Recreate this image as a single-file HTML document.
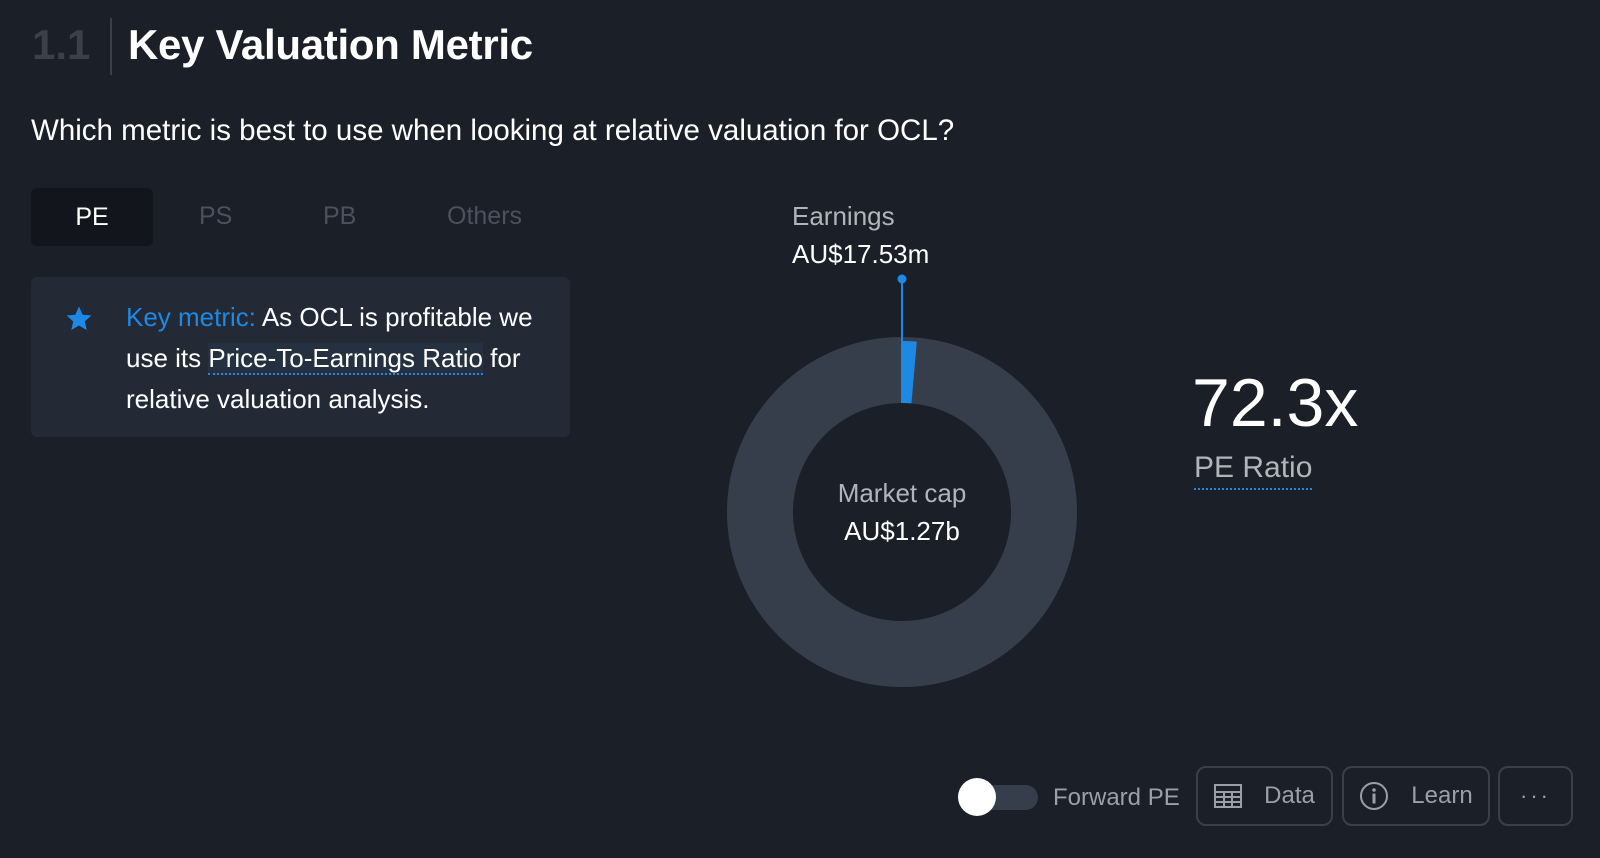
<!DOCTYPE html>
<html><head><meta charset="utf-8"><style>
body{margin:0;width:1600px;height:858px;background:#1b1f27;font-family:"Liberation Sans",sans-serif;overflow:hidden;position:relative;color:#fff}
.a{position:absolute;white-space:nowrap}
.btn{position:absolute;border:2px solid #3a404b;border-radius:10px;box-sizing:border-box;color:#9aa0a8;font-size:24px;display:flex;align-items:center;justify-content:center;gap:22px}
</style></head><body>
<div class="a" style="left:32px;top:21px;font-size:42px;color:#3b414b;font-weight:bold">1.1</div>
<div class="a" style="left:110px;top:18px;width:2px;height:57px;background:#3a404b"></div>
<div class="a" style="left:128px;top:21px;font-size:42px;font-weight:bold;letter-spacing:-0.3px">Key Valuation Metric</div>
<div class="a" style="left:31px;top:114px;font-size:29.5px">Which metric is best to use when looking at relative valuation for OCL?</div>
<div class="a" style="left:31px;top:188px;width:122px;height:58px;background:#12151b;border-radius:6px;font-size:25px;display:flex;align-items:center;justify-content:center">PE</div>
<div class="a" style="left:199px;top:202px;font-size:25px;color:#4b525d">PS</div>
<div class="a" style="left:323px;top:202px;font-size:25px;color:#4b525d">PB</div>
<div class="a" style="left:447px;top:202px;font-size:25px;color:#4b525d">Others</div>
<div class="a" style="left:31px;top:277px;width:539px;height:160px;background:#232a35;border-radius:6px"></div>
<svg class="a" style="left:64px;top:304px" width="30" height="30" viewBox="0 0 24 24"><path fill="#1e88e5" d="M12 2l2.9 6.6 7.1.6-5.4 4.7 1.6 7-6.2-3.7-6.2 3.7 1.6-7L2 9.2l7.1-.6z"/></svg>
<div class="a" style="left:126px;top:297px;font-size:26px;line-height:41px;white-space:normal;width:430px"><span style="color:#1e88e5">Key metric:</span> As OCL is profitable we use its <span style="border-bottom:2px dotted #1e88e5;background:#253140">Price-To-Earnings Ratio</span> for relative valuation analysis.</div>
<svg class="a" style="left:0;top:0" width="1600" height="858" id="ch"></svg>
<div class="a" style="left:792px;top:201px;font-size:26px;color:#b0b5bc">Earnings</div>
<div class="a" style="left:792px;top:239px;font-size:26px">AU$17.53m</div>
<div class="a" style="left:802px;top:478px;width:200px;text-align:center;font-size:26px;color:#b0b5bc">Market cap</div>
<div class="a" style="left:802px;top:516px;width:200px;text-align:center;font-size:26px">AU$1.27b</div>
<div class="a" style="left:1192px;top:364px;font-size:68px">72.3x</div>
<div class="a" style="left:1194px;top:451px;font-size:30px;color:#b0b5bc;border-bottom:2px dotted #1e88e5;padding-bottom:3px">PE Ratio</div>
<div class="a" style="left:958px;top:785px;width:80px;height:25px;border-radius:13px;background:#373e4b"></div>
<div class="a" style="left:958px;top:778px;width:38px;height:38px;border-radius:50%;background:#fff"></div>
<div class="a" style="left:1053px;top:784px;font-size:24px;color:#9aa0a8">Forward PE</div>
<div class="btn" style="left:1196px;top:766px;width:137px;height:60px"><svg width="28" height="24" viewBox="0 0 28 24"><rect x="1" y="1" width="26" height="22" fill="none" stroke="#9aa0a8" stroke-width="2"/><path d="M1 8H27M1 13H27M1 18H27M10 8V23M18 8V23" stroke="#9aa0a8" stroke-width="2"/></svg>Data</div>
<div class="btn" style="left:1342px;top:766px;width:148px;height:60px"><svg width="30" height="30" viewBox="0 0 30 30"><circle cx="15" cy="15" r="13" fill="none" stroke="#9aa0a8" stroke-width="2"/><circle cx="15" cy="9" r="1.8" fill="#9aa0a8"/><rect x="13.5" y="12.5" width="3" height="10" fill="#9aa0a8"/></svg>Learn</div>
<div class="btn" style="left:1498px;top:766px;width:75px;height:60px;font-size:22px;letter-spacing:3px">···</div>
<script>
const categories=["Earnings","Market cap"];
const values=[17.53,1270];
const svg=document.getElementById('ch');const ns='http://www.w3.org/2000/svg';
const cx=902,cy=512,R=175,r=109;
function arc(a0,a1,ro,ri){const p=(a,rad)=>[cx+rad*Math.sin(a),cy-rad*Math.cos(a)];const l=(a1-a0)>Math.PI?1:0;const[a,b]=p(a0,ro),[c,d]=p(a1,ro),[e,f]=p(a1,ri),[g,h]=p(a0,ri);return `M${a},${b}A${ro},${ro} 0 ${l} 1 ${c},${d}L${e},${f}A${ri},${ri} 0 ${l} 0 ${g},${h}Z`;}
const ring=document.createElementNS(ns,'circle');ring.setAttribute('cx',cx);ring.setAttribute('cy',cy);ring.setAttribute('r',(R+r)/2);ring.setAttribute('fill','none');ring.setAttribute('stroke','#373e4b');ring.setAttribute('stroke-width',R-r);


svg.appendChild(ring);
const ang=values[0]/values[1]*2*Math.PI;
const sl=document.createElementNS(ns,'path');sl.setAttribute('d',arc(0,Math.max(ang,0.001),R-4,r));sl.setAttribute('fill','#1e88e5');


svg.appendChild(sl);
const ln=document.createElementNS(ns,'line');ln.setAttribute('x1',cx);ln.setAttribute('x2',cx);ln.setAttribute('y1',279);ln.setAttribute('y2',cy-r);ln.setAttribute('stroke','#1e88e5');ln.setAttribute('stroke-width',2);


svg.appendChild(ln);
const dot=document.createElementNS(ns,'circle');dot.setAttribute('cx',cx);dot.setAttribute('cy',279);dot.setAttribute('r',4.5);dot.setAttribute('fill','#1e88e5');


svg.appendChild(dot);
</script>
</body></html>
